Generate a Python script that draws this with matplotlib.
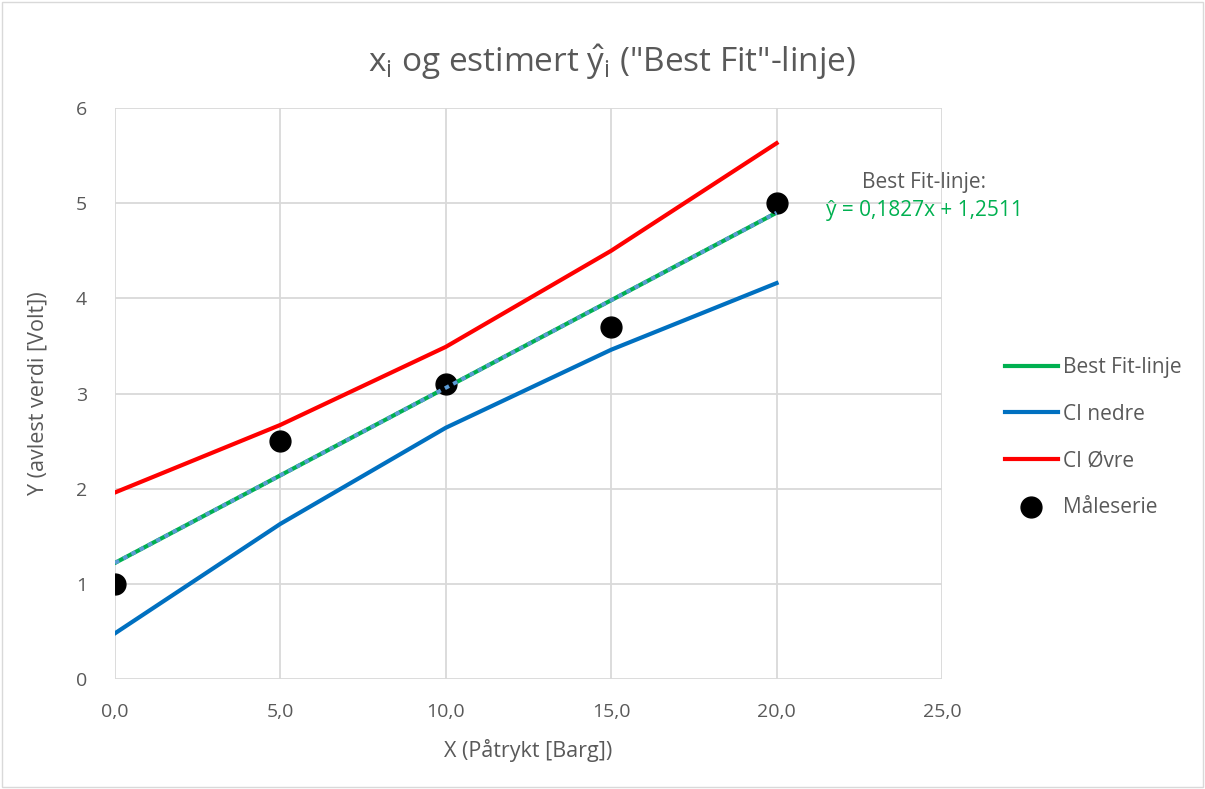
import matplotlib
matplotlib.use('Agg')
import matplotlib.pyplot as plt
from matplotlib.patches import Rectangle

# data
x_vals = [0, 5, 10, 15, 20]
best_fit = [1.22, 2.14, 3.06, 3.98, 4.90]
ci_lower = [0.48, 1.63, 2.64, 3.46, 4.16]
ci_upper = [1.96, 2.67, 3.49, 4.50, 5.63]
maaleserie = [1.0, 2.5, 3.1, 3.7, 5.0]

x_ticks = [0, 5, 10, 15, 20, 25]
x_ticklabels = ['0,0', '5,0', '10,0', '15,0', '20,0', '25,0']
y_ticks = [0, 1, 2, 3, 4, 5, 6]

plt.rcParams['font.family'] = ['Open Sans', 'DejaVu Sans']
plt.rcParams['mathtext.fontset'] = 'custom'
plt.rcParams['mathtext.rm'] = 'Open Sans'
plt.rcParams['mathtext.it'] = 'Open Sans'
txt = '#595959'
grid = '#d9d9d9'

fig = plt.figure(figsize=(12.05, 7.89), dpi=100)
fig.patches.append(Rectangle((0.002, 0.002), 0.996, 0.996, transform=fig.transFigure,
                             fill=False, edgecolor='#d9d9d9', lw=1))
ax = fig.add_axes([0.0954, 0.1394, 0.6863, 0.7237])

ax.plot(x_vals, best_fit, color='#00b050', lw=3, label='Best Fit-linje', zorder=3)
ax.plot(x_vals, ci_lower, color='#0070c0', lw=3, label='CI nedre', zorder=3)
ax.plot(x_vals, ci_upper, color='#ff0000', lw=3, label='CI Øvre', zorder=3)
ax.scatter(x_vals, maaleserie, s=15**2, color='black', label='Måleserie', zorder=4)

# lineær trendlinje (prikket, over punktene)
ax.plot([x_vals[0], x_vals[-1]], [best_fit[0], best_fit[-1]], color='#5b9bd5', lw=2.8,
        linestyle=(0, (1.2, 1.2)), zorder=5)

ax.set_xlim(0, 25)
ax.set_ylim(0, 6)
ax.set_xticks(x_ticks)
ax.set_xticklabels(x_ticklabels)
ax.set_yticks(y_ticks)
ax.grid(True, color=grid, lw=1.3)
ax.set_axisbelow(True)
for s in ax.spines.values():
    s.set_visible(False)
ax.tick_params(axis='x', length=0, labelsize=14, colors=txt, pad=17)
ax.tick_params(axis='y', length=0, labelsize=14, colors=txt, pad=20)

ax.set_xlabel('X (Påtrykt [Barg])', fontsize=15.5, color=txt, labelpad=13)
ax.set_ylabel('Y (avlest verdi [Volt])', fontsize=15.5, color=txt, labelpad=20)
fig.text(0.508, 0.921, r'x$_\mathregular{i}$ og estimert $\mathregular{\hat{y}_i}$ ("Best Fit"-linje)',
         ha='center', va='center', fontsize=24, color=txt)

ax.text(24.47, 5.22, 'Best Fit-linje:', ha='center', va='center', fontsize=15, color=txt)
ax.text(24.47, 4.92, 'ŷ = 0,1827x + 1,2511', ha='center', va='center', fontsize=15,
        color='#00b050')

leg = ax.legend(loc='center left', bbox_to_anchor=(1.066, 0.423), frameon=False,
                fontsize=15, labelspacing=1.22, handlelength=2.55, handletextpad=0.25,
                borderaxespad=0, markerscale=1.0)
for t in leg.get_texts():
    t.set_color(txt)

fig.savefig('out.png', dpi=100)
